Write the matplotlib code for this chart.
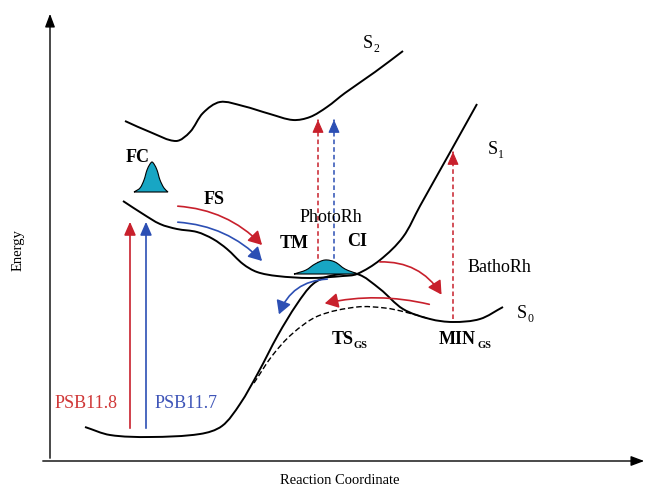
#!/usr/bin/env python3

import numpy as np
import matplotlib
matplotlib.use('Agg')
import matplotlib.pyplot as plt
from matplotlib.path import Path
from matplotlib.patches import PathPatch, FancyArrowPatch

# schematic potential energy surfaces, knots in picture units (x right, y down)
s2_knots = [(125, 122), (150, 133), (176, 142), (190, 133), (203, 114),
            (220, 103), (243, 107), (270, 115), (293, 121), (310, 118),
            (327, 108), (345, 94), (375, 73), (403, 52)]
s1_knots = [(123, 202), (143, 215), (160, 225), (177, 230), (197, 233),
            (213, 240), (227, 250), (243, 265), (257, 273), (277, 277),
            (310, 279), (343, 277), (357, 275), (380, 261), (403, 238),
            (420, 207), (448, 157), (477, 105)]
s0_knots = [(85, 428), (110, 436), (150, 438), (200, 435), (222, 427),
            (240, 405), (258, 374), (278, 336), (297, 305), (313, 285),
            (330, 277), (357, 275), (380, 290), (403, 310), (430, 320),
            (453, 323), (480, 320), (503, 308)]
ts_knots = [(254, 384), (272, 357), (292, 335), (318, 317), (357, 308),
            (385, 309), (405, 313), (430, 320)]
fc_wave = [(134, 193), (140, 189), (144, 181), (147, 171), (150, 165),
           (152, 163), (154, 165), (157, 171), (160, 181), (164, 189), (168, 193)]
ci_wave = [(294, 275), (306, 271), (315, 265), (325, 261), (335, 263),
           (345, 270), (358, 275)]

RED = '#c8202c'
BLUE = '#2c4fb4'
TEAL = '#18a6c4'
SERIF = 'Liberation Serif'


def smooth_path(pts, close=False):
    # chord-length hermite knots -> cubic bezier segments, drawn by matplotlib
    p = np.array(pts, dtype=float)
    d = np.hypot(*np.diff(p, axis=0).T)
    n = len(p)
    tang = np.zeros_like(p)
    for i in range(n):
        if i == 0:
            tang[i] = (p[1] - p[0]) / d[0]
        elif i == n - 1:
            tang[i] = (p[-1] - p[-2]) / d[-1]
        else:
            tang[i] = (p[i + 1] - p[i - 1]) / (d[i - 1] + d[i])
    verts = [tuple(p[0])]
    codes = [Path.MOVETO]
    for i in range(n - 1):
        c1 = p[i] + tang[i] * d[i] / 3.0
        c2 = p[i + 1] - tang[i + 1] * d[i] / 3.0
        verts += [tuple(c1), tuple(c2), tuple(p[i + 1])]
        codes += [Path.CURVE4] * 3
    if close:
        verts.append(tuple(p[0]))
        codes.append(Path.CLOSEPOLY)
    return Path(verts, codes)


fig = plt.figure(figsize=(6.49, 4.89), dpi=100)
ax = fig.add_axes([0, 0, 1, 1])
ax.set_xlim(0, 649)
ax.set_ylim(489, 0)
ax.set_axis_off()

# axes of the sketch
ax.annotate('', xy=(50, 12), xytext=(50, 462),
            arrowprops=dict(arrowstyle='-|>,head_length=0.8,head_width=0.3', color='k', lw=1))
ax.annotate('', xy=(647, 462), xytext=(40, 462),
            arrowprops=dict(arrowstyle='-|>,head_length=0.8,head_width=0.3', color='k', lw=1))
ax.text(340, 481, 'Reaction Coordinate', ha='center', va='center', family=SERIF, fontsize=10.5)
ax.text(18, 250, 'Energy', ha='center', va='center', rotation=90, family=SERIF, fontsize=10.5)

# surfaces
for knots in (s2_knots, s1_knots, s0_knots):
    ax.add_patch(PathPatch(smooth_path(knots), fill=False, lw=1.4, ec='k'))
ax.add_patch(PathPatch(smooth_path(ts_knots), fill=False, lw=1.0, ec='k', ls=(0, (4, 2))))

# wavepackets
for w in (fc_wave, ci_wave):
    ax.add_patch(PathPatch(smooth_path(w, close=True), fc=TEAL, ec='k', lw=0.8, zorder=3))

# vertical excitations
ax.annotate('', xy=(130, 220), xytext=(130, 432),
            arrowprops=dict(arrowstyle='-|>,head_length=0.8,head_width=0.35', color=RED, lw=1.2))
ax.annotate('', xy=(146, 220), xytext=(146, 432),
            arrowprops=dict(arrowstyle='-|>,head_length=0.8,head_width=0.35', color=BLUE, lw=1.2))

# dashed excitations
for x, y0, y1, c in ((318, 275, 118, RED), (334, 275, 118, BLUE), (453, 320, 150, RED)):
    ax.plot([x, x], [y0, y1 + 8], color=c, lw=1.1, ls=(0, (3, 2)))
    ax.annotate('', xy=(x, y1), xytext=(x, y1 + 6),
                arrowprops=dict(arrowstyle='-|>,head_length=0.8,head_width=0.35', color=c, lw=0.8))

# curved relaxation arrows
curved = [((175, 207), (264, 248), RED, -0.2),
          ((175, 223), (264, 264), BLUE, -0.2),
          ((330, 280), (278, 318), BLUE, 0.35),
          ((377, 263), (443, 298), RED, -0.3),
          ((432, 306), (322, 305), RED, 0.12)]
for a, b, c, rad in curved:
    ax.add_patch(FancyArrowPatch(a, b, connectionstyle=f'arc3,rad={rad}',
                                 arrowstyle='-|>,head_length=8,head_width=4.5',
                                 color=c, lw=1.2, zorder=4))

# labels
lab = dict(family=SERIF, fontsize=13, va='center', ha='left')
sub = dict(family=SERIF, va='center', ha='left')
ax.text(126, 158, 'FC', fontweight='bold', **lab)
ax.text(204, 199, 'FS', fontweight='bold', **lab)
ax.text(280, 243, 'TM', fontweight='bold', **lab)
ax.text(347, 242, 'CI', fontweight='bold', **lab)
ax.text(300, 217, 'PhotoRh', **lab)
ax.text(468, 267, 'BathoRh', **lab)
ax.text(55, 404, 'PSB11.8', color='#d03838', **lab)
ax.text(155, 404, 'PSB11.7', color='#3f55b8', **lab)

ax.text(363, 43, 'S', **lab)
ax.text(373, 49, '2', fontsize=8.5, **sub)
ax.text(488, 149, 'S', **lab)
ax.text(498, 155, '1', fontsize=8.5, **sub)
ax.text(517, 313, 'S', **lab)
ax.text(527, 319, '0', fontsize=8.5, **sub)

ax.text(332, 340, 'TS', fontweight='bold', **lab)
ax.text(354, 345, 'GS', fontweight='bold', fontsize=7.5, **sub)
ax.text(439, 340, 'MIN', fontweight='bold', **lab)
ax.text(477, 345, 'GS', fontweight='bold', fontsize=7.5, **sub)

fig.savefig('out.png', dpi=100)
